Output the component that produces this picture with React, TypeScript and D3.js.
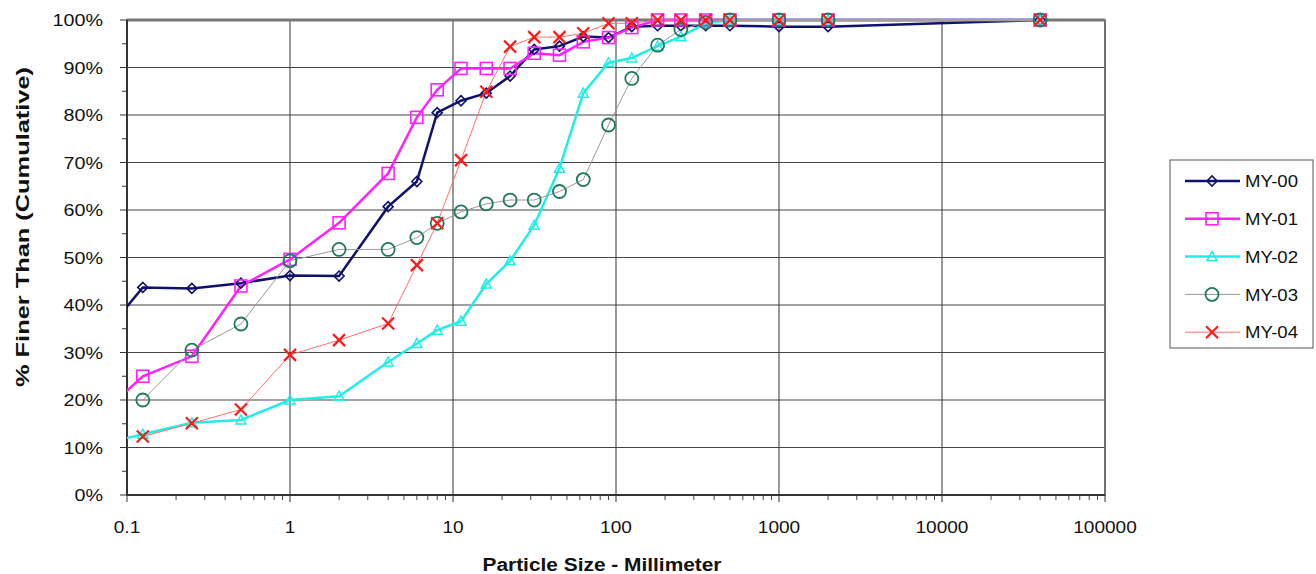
import React from "react";
import * as d3 from "d3";

const sizes = [0.075, 0.125, 0.25, 0.5, 1, 2, 4, 6, 8, 11.2, 16, 22.4, 31.5, 45, 63, 90, 125, 180, 250, 355, 500, 1000, 2000, 40000];

const my00 = [34.5, 43.7, 43.5, 44.6, 46.2, 46.1, 60.7, 66.0, 80.5, 83.0, 84.6, 88.2, 93.8, 94.5, 96.5, 96.3, 98.6, 98.8, 98.8, 98.8, 98.8, 98.6, 98.6, 100];
const my01 = [18.0, 25.0, 29.2, 44.0, 49.6, 57.3, 67.7, 79.5, 85.3, 89.8, 89.8, 89.8, 93.0, 92.6, 95.4, 96.3, 98.4, 100, 100, 100, 100, 100, 100, 100];
const my02 = [11.0, 12.8, 15.2, 15.8, 20.0, 20.8, 28.0, 31.9, 34.7, 36.6, 44.4, 49.3, 56.8, 68.8, 84.6, 91.0, 92.0, 94.5, 96.5, 99.3, 100, 100, 100, 100];
const my03 = [null, 20.0, 30.5, 36.0, 49.3, 51.7, 51.7, 54.2, 57.2, 59.6, 61.3, 62.1, 62.1, 63.9, 66.4, 77.9, 87.7, 94.7, 98.0, 99.5, 100, 100, 100, 100];
const my04 = [null, 12.3, 15.1, 18.0, 29.5, 32.6, 36.1, 48.4, 57.2, 70.5, 84.9, 94.4, 96.4, 96.4, 97.2, 99.3, 99.3, 100, 100, 100, 100, 100, 100, 100];

const xTickValues = [0.1, 1, 10, 100, 1000, 10000, 100000];
const xTickLabels = ["0.1", "1", "10", "100", "1000", "10000", "100000"];
const yTickValues = [0, 10, 20, 30, 40, 50, 60, 70, 80, 90, 100];

type Series = { name: string; values: (number | null)[]; color: string; lineColor: string; lineWidth: number; marker: string };

const series: Series[] = [
  { name: "MY-00", values: my00, color: "#10106e", lineColor: "#10106e", lineWidth: 2.5, marker: "diamond" },
  { name: "MY-01", values: my01, color: "#ff22ff", lineColor: "#ff22ff", lineWidth: 2.5, marker: "square" },
  { name: "MY-02", values: my02, color: "#22eee6", lineColor: "#22eee6", lineWidth: 2.5, marker: "triangle" },
  { name: "MY-03", values: my03, color: "#1f7a5c", lineColor: "#9a9a9a", lineWidth: 1, marker: "circle" },
  { name: "MY-04", values: my04, color: "#ff1a1a", lineColor: "#ff7070", lineWidth: 1, marker: "x" },
];

const W = 1316, H = 574;
const L = 127, R = 1105, T = 20, B = 495;

const charW: Record<string, number> = { "0": 0.556, "1": 0.556, "2": 0.556, "3": 0.556, "4": 0.556, "5": 0.556, "6": 0.556, "7": 0.556, "8": 0.556, "9": 0.556, "%": 0.889, ".": 0.278, M: 0.833, Y: 0.667, "-": 0.333 };
function estW(s: string, size: number) {
  let w = 0;
  for (const c of s) w += charW[c] ?? 0.556;
  return w * size;
}

function Marker({ type, x, y, color }: { type: string; x: number; y: number; color: string }) {
  if (type === "diamond") {
    const s = 5;
    return <path d={`M${x - s},${y} L${x},${y - s} L${x + s},${y} L${x},${y + s} Z`} fill="none" stroke={color} strokeWidth={1.6} />;
  }
  if (type === "square") {
    const s = 6;
    return <rect x={x - s} y={y - s} width={2 * s} height={2 * s} fill="none" stroke={color} strokeWidth={1.6} />;
  }
  if (type === "triangle") {
    const s = 5;
    return <path d={`M${x},${y - s} L${x + s},${y + s * 0.8} L${x - s},${y + s * 0.8} Z`} fill="none" stroke={color} strokeWidth={1.5} />;
  }
  if (type === "circle") {
    return <circle cx={x} cy={y} r={6.5} fill="none" stroke={color} strokeWidth={1.8} />;
  }
  const s = 6;
  return (
    <g stroke={color} strokeWidth={2.2}>
      <line x1={x - s} y1={y - s} x2={x + s} y2={y + s} />
      <line x1={x - s} y1={y + s} x2={x + s} y2={y - s} />
    </g>
  );
}

export default function App() {
  const x = d3.scaleLog().domain([0.1, 100000]).range([L, R]);
  const y = d3.scaleLinear().domain([0, 100]).range([B, T]);

  const minorX: number[] = [];
  for (let e = -1; e < 5; e++) {
    for (let k = 2; k <= 9; k++) minorX.push(k * Math.pow(10, e));
  }
  const minorY = d3.range(5, 100, 10);

  const font = "Arial, 'Liberation Sans', sans-serif";
  const tickSize = 17;

  return (
    <svg width={W} height={H} style={{ position: "absolute", left: 0, top: 0, background: "#fff" }} fontFamily={font}>
      <defs>
        <clipPath id="plotclip">
          <rect x={L} y={T - 10} width={R - L + 10} height={B - T + 20} />
        </clipPath>
      </defs>
      <rect x={0} y={0} width={W} height={H} fill="#fff" />
      {/* gridlines */}
      {yTickValues.map((v) => (
        <line key={"gy" + v} x1={L} x2={R} y1={y(v)} y2={y(v)} stroke="#444" strokeWidth={1.1} />
      ))}
      {xTickValues.map((v) => (
        <line key={"gx" + v} x1={x(v)} x2={x(v)} y1={T} y2={B} stroke="#444" strokeWidth={1.1} />
      ))}
      {/* plot border */}
      <rect x={L} y={T} width={R - L} height={B - T} fill="none" stroke="#666" strokeWidth={1.5} />
      <line x1={L} x2={R} y1={T} y2={T} stroke="#777" strokeWidth={3} />
      <line x1={L} x2={L} y1={T} y2={B} stroke="#333" strokeWidth={2} />
      <line x1={L} x2={R} y1={B} y2={B} stroke="#333" strokeWidth={2} />
      {/* y ticks */}
      {yTickValues.map((v) => (
        <line key={"ty" + v} x1={L - 7} x2={L} y1={y(v)} y2={y(v)} stroke="#333" strokeWidth={1} />
      ))}
      {minorY.map((v) => (
        <line key={"my" + v} x1={L - 5} x2={L} y1={y(v)} y2={y(v)} stroke="#333" strokeWidth={1} />
      ))}
      {yTickValues.map((v) => {
        const s = v + "%";
        return (
          <text key={"ly" + v} x={103} y={y(v)} dy="0.36em" textAnchor="end" fontSize={tickSize} fill="#111" textLength={estW(s, tickSize) * 1.16} lengthAdjust="spacingAndGlyphs">
            {s}
          </text>
        );
      })}
      {/* x ticks */}
      {xTickValues.map((v) => (
        <line key={"tx" + v} x1={x(v)} x2={x(v)} y1={B} y2={B + 7} stroke="#333" strokeWidth={1} />
      ))}
      {minorX.map((v, i) => (
        <line key={"mx" + i} x1={x(v)} x2={x(v)} y1={B} y2={B + 5} stroke="#444" strokeWidth={1} />
      ))}
      {xTickValues.map((v, i) => (
        <text key={"lx" + v} x={x(v)} y={533} textAnchor="middle" fontSize={tickSize} fill="#111" textLength={estW(xTickLabels[i], tickSize) * 1.12} lengthAdjust="spacingAndGlyphs">
          {xTickLabels[i]}
        </text>
      ))}
      {/* axis titles */}
      <text x={602} y={571} textAnchor="middle" fontSize={18} fontWeight="bold" fill="#111" textLength={239} lengthAdjust="spacingAndGlyphs">
        Particle Size - Millimeter
      </text>
      <text transform={`translate(29,227) rotate(-90)`} textAnchor="middle" fontSize={18} fontWeight="bold" fill="#111" textLength={320} lengthAdjust="spacingAndGlyphs">
        % Finer Than (Cumulative)
      </text>
      {/* series */}
      <g clipPath="url(#plotclip)">
        {series.map((s) => {
          const pts = sizes.map((sz, i) => [sz, s.values[i]] as [number, number | null]).filter((p) => p[1] !== null) as [number, number][];
          const line = d3.line<[number, number]>().x((p) => x(p[0])).y((p) => y(p[1]));
          return <path key={s.name} d={line(pts) || ""} fill="none" stroke={s.lineColor} strokeWidth={s.lineWidth} />;
        })}
        {series.map((s) => {
          const pts = sizes.map((sz, i) => [sz, s.values[i]] as [number, number | null]).filter((p) => p[1] !== null && p[0] >= 0.1) as [number, number][];
          return (
            <g key={s.name + "m"}>
              {pts.map((p, i) => (
                <Marker key={i} type={s.marker} x={x(p[0])} y={y(p[1])} color={s.color} />
              ))}
            </g>
          );
        })}
      </g>
      {/* legend */}
      <rect x={1170} y={160} width={143} height={188} fill="#fff" stroke="#555" strokeWidth={1} />
      {series.map((s, i) => {
        const ly = 181 + i * 37.8;
        return (
          <g key={"lg" + s.name}>
            <line x1={1185} x2={1240} y1={ly} y2={ly} stroke={s.lineColor} strokeWidth={s.lineWidth} />
            <Marker type={s.marker} x={1212} y={ly} color={s.color} />
            <text x={1245} y={ly} dy="0.36em" fontSize={17} fill="#111" textLength={53} lengthAdjust="spacingAndGlyphs">
              {s.name}
            </text>
          </g>
        );
      })}
    </svg>
  );
}
